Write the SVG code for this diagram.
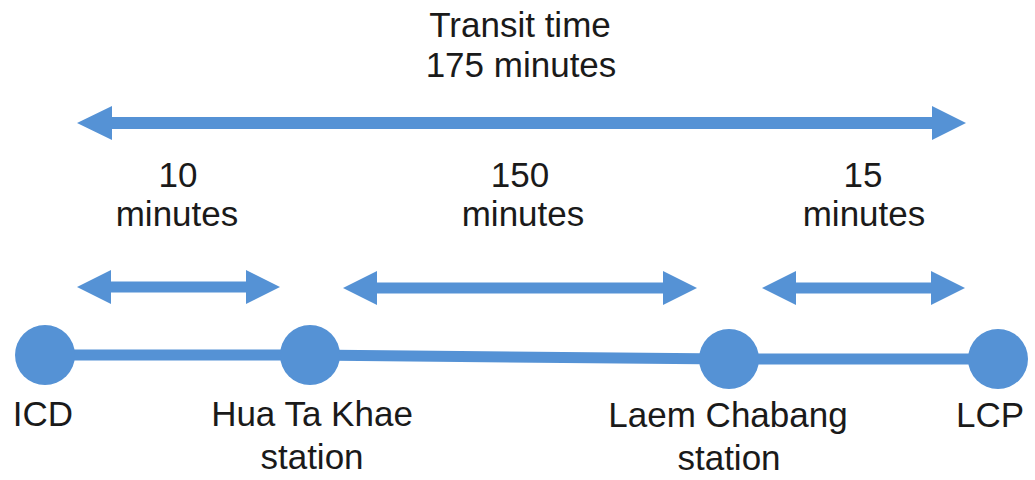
<svg xmlns="http://www.w3.org/2000/svg" width="1035" height="480" viewBox="0 0 1035 480">
<style>
.t{font-family:"Liberation Sans",Arial,sans-serif;font-size:35px;fill:#1a1a1a;text-anchor:middle}
.b{fill:#5592d5}
.l{stroke:#5592d5;stroke-width:11;fill:none}
</style>
<rect width="1035" height="480" fill="#ffffff"/>
<g id="connectors">
<line class="l" x1="45" y1="355" x2="310" y2="355"/>
<line class="l" x1="310" y1="355" x2="729" y2="359"/>
<line class="l" x1="729" y1="359" x2="998" y2="359"/>
<polygon class="b" points="77,123 112,106 112,117 932,117 932,106 966,123 932,140 932,129 112,129 112,140"/>
<polygon class="b" points="77,287 111,270 111,281.5 246,281.5 246,270 280,287 246,304 246,292.5 111,292.5 111,304"/>
<polygon class="b" points="343,288 377,271 377,282.5 663,282.5 663,271 697,288 663,305 663,293.5 377,293.5 377,305"/>
<polygon class="b" points="762,288 796,271 796,282.5 931,282.5 931,271 965,288 931,305 931,293.5 796,293.5 796,305"/>
</g>
<g id="title">
<text class="t" x="520" y="37">Transit time</text>
<text class="t" x="521" y="77">175 minutes</text>
</g>
<g id="seg1">
<text class="t" x="178" y="187">10</text>
<text class="t" x="177" y="226">minutes</text>
</g>
<g id="seg2">
<text class="t" x="520" y="187">150</text>
<text class="t" x="523" y="226">minutes</text>
</g>
<g id="seg3">
<text class="t" x="863" y="187">15</text>
<text class="t" x="864" y="226">minutes</text>
</g>
<g id="icd">
<circle class="b" cx="45" cy="355" r="30"/>
<text class="t" x="43" y="426">ICD</text>
</g>
<g id="huatakhae">
<circle class="b" cx="310" cy="355" r="30"/>
<text class="t" x="312" y="426">Hua Ta Khae</text>
<text class="t" x="312" y="469">station</text>
</g>
<g id="laemchabang">
<circle class="b" cx="729" cy="359" r="30"/>
<text class="t" x="728" y="427">Laem Chabang</text>
<text class="t" x="729" y="470">station</text>
</g>
<g id="lcp">
<circle class="b" cx="998" cy="359" r="30"/>
<text class="t" x="990" y="427">LCP</text>
</g>
</svg>
